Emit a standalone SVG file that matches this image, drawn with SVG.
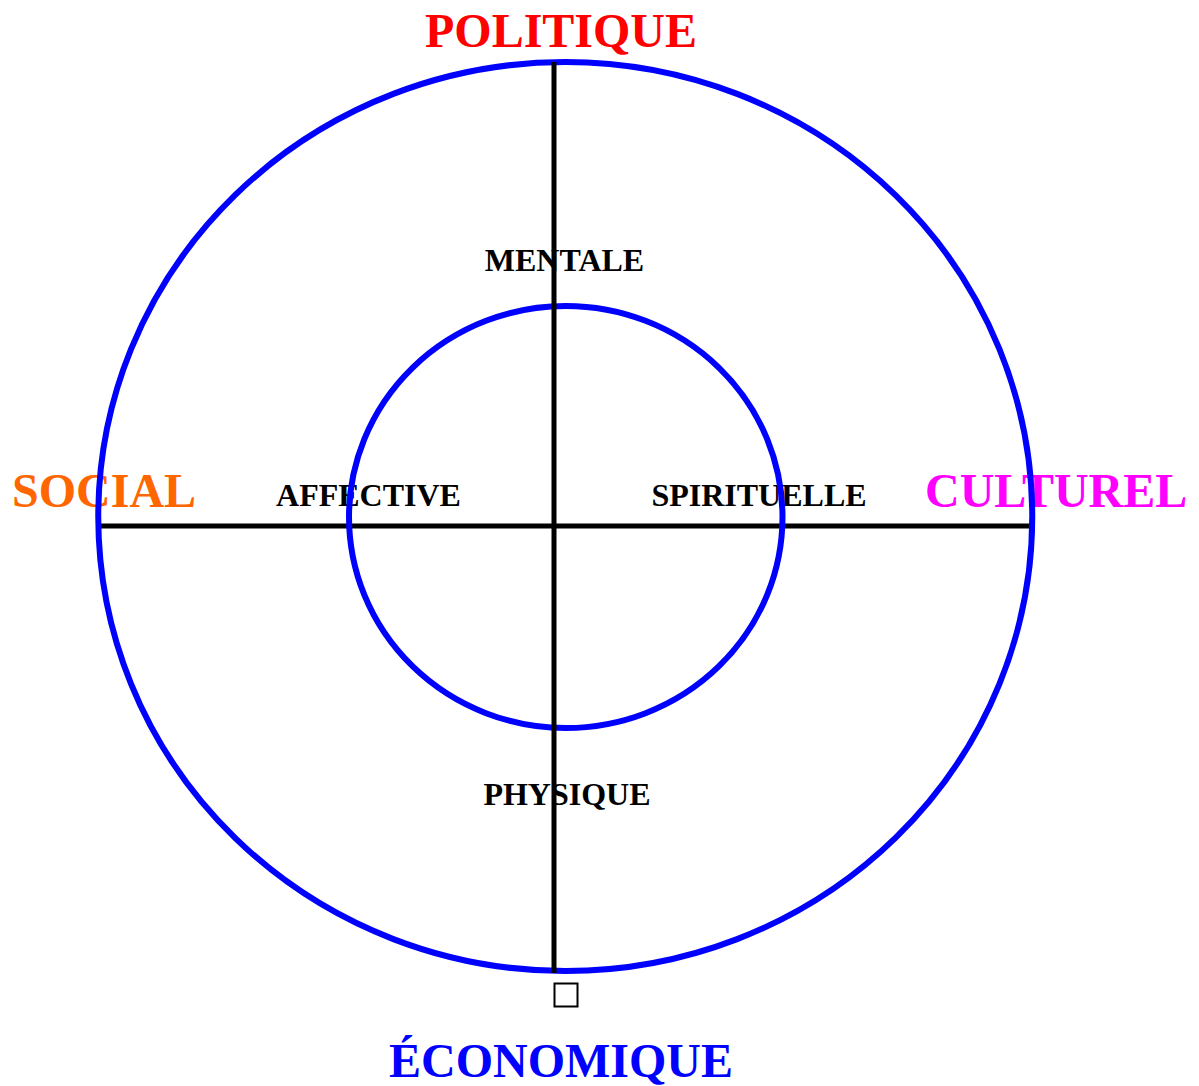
<svg xmlns="http://www.w3.org/2000/svg" width="1199" height="1086" viewBox="0 0 1199 1086">
<style>
.ring{fill:none;stroke:#0000ff;stroke-width:6}
.axis{stroke:#000;stroke-width:5}
.big{font-family:"Liberation Serif","Times New Roman",serif;font-weight:bold;font-size:48px}
.small{font-family:"Liberation Serif","Times New Roman",serif;font-weight:bold;font-size:32px;fill:#000}
</style>
<rect width="1199" height="1086" fill="#fff"/>
<g id="connectors">
<line class="axis" x1="98" y1="526" x2="1033" y2="526"/>
</g>
<g id="labels-outer">
<text id="politique" class="big" x="561" y="47" fill="#ff0000" text-anchor="middle">POLITIQUE</text>
<text id="social" class="big" x="12" y="507" fill="#ff6600">SOCIAL</text>
<text id="culturel" class="big" x="925" y="507" fill="#ff00ff">CULTUREL</text>
<text id="economique" class="big" x="561" y="1077" fill="#0000ff" text-anchor="middle">ÉCONOMIQUE</text>
</g>
<g id="labels-inner">
<text id="mentale" class="small" x="564.5" y="271" text-anchor="middle">MENTALE</text>
<text id="affective" class="small" x="368.5" y="506" text-anchor="middle">AFFECTIVE</text>
<text id="spirituelle" class="small" x="759" y="506" text-anchor="middle">SPIRITUELLE</text>
<text id="physique" class="small" x="567" y="805" text-anchor="middle">PHYSIQUE</text>
</g>
<g id="outer-ring"><ellipse class="ring" cx="565.25" cy="516.5" rx="467" ry="454.5"/></g>
<g id="inner-ring"><ellipse class="ring" cx="565.75" cy="517" rx="216.75" ry="211"/></g>
<g id="connectors-vertical">
<line class="axis" x1="554" y1="62" x2="554" y2="973"/>
</g>
<g id="square"><rect x="554.5" y="983.5" width="23" height="23" fill="#fff" stroke="#000" stroke-width="2"/></g>
</svg>
